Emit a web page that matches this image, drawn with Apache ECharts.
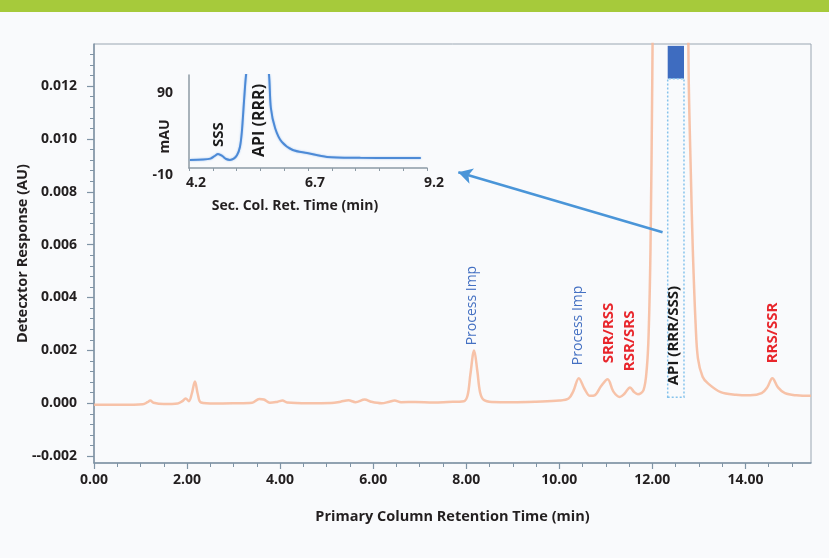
<!DOCTYPE html>
<html>
<head>
<meta charset="utf-8">
<script src="https://cdn.jsdelivr.net/npm/echarts@6/dist/echarts.min.js"></script>
<style>
  html, body { margin: 0; padding: 0; background: #f9fafc; }
  #chart { width: 829px; height: 558px; }
</style>
</head>
<body>
<div id="chart"></div>
<script>
// Primary column chromatogram: [retention time (min), response (AU)]
const primaryTrace = [
  [0.0, -0.00006], [0.6, -0.00006], [1.05, -0.00004], [1.15, 0.00004], [1.21, 0.00010],
  [1.28, 0.00002], [1.5, -0.00003], [1.8, -0.00001], [1.9, 0.00008], [1.97, 0.00018],
  [2.04, 0.00008], [2.1, 0.00035], [2.17, 0.00082], [2.23, 0.00035], [2.3, 0.00003],
  [2.6, -0.00001], [3.0, 0.0], [3.4, 0.00002], [3.55, 0.00016], [3.65, 0.00014],
  [3.78, 0.00002], [3.95, 0.00006], [4.05, 0.00010], [4.15, 0.00003], [4.6, 0.0],
  [5.1, 0.00001], [5.3, 0.00006], [5.47, 0.00011], [5.62, 0.00004], [5.82, 0.00014],
  [5.95, 0.00006], [6.18, 0.0], [6.35, 0.00006], [6.46, 0.0001], [6.6, 0.00004],
  [6.9, 0.00005], [7.3, 0.00003], [7.6, 0.00005], [7.95, 0.00008], [8.03, 0.0003],
  [8.09, 0.0011], [8.17, 0.0020], [8.24, 0.0012], [8.3, 0.0004], [8.38, 0.00012],
  [8.55, 0.00005], [9.0, 0.00004], [9.5, 0.00006], [10.0, 0.0001], [10.2, 0.00018],
  [10.3, 0.00045], [10.42, 0.00095], [10.54, 0.00055], [10.66, 0.00028], [10.76, 0.0003],
  [10.9, 0.00065], [11.04, 0.00091], [11.16, 0.00045], [11.3, 0.00024], [11.4, 0.00036],
  [11.52, 0.0006], [11.61, 0.00042], [11.69, 0.00034], [11.81, 0.0005], [11.88, 0.0013],
  [11.92, 0.0026], [11.96, 0.0058], [12.0, 0.0125], [12.04, 0.021], [12.2, 0.045],
  [12.4, 0.06], [12.6, 0.045], [12.74, 0.021], [12.78, 0.0125], [12.83, 0.0085],
  [12.87, 0.0058], [12.93, 0.003], [12.98, 0.0017], [13.08, 0.001], [13.19, 0.00076],
  [13.47, 0.00042], [13.8, 0.00032], [14.1, 0.0003], [14.35, 0.00038], [14.47, 0.0006],
  [14.58, 0.00095], [14.7, 0.0006], [14.85, 0.00038], [15.1, 0.0003], [15.41, 0.00028]
];

// Secondary column trace (inset): [retention time (min), mAU]
const secondaryTrace = [
  [4.22, 0.7], [4.5, 1.2], [4.65, 2.5], [4.74, 6], [4.81, 8.7], [4.9, 6], [4.98, 2],
  [5.06, 0.8], [5.14, 2.5], [5.21, 7.3], [5.27, 18], [5.31, 38], [5.36, 83], [5.40, 115],
  [5.5, 160], [5.64, 185], [5.78, 160], [5.88, 115], [5.92, 70], [6.01, 43], [6.15, 24.7],
  [6.38, 14], [6.68, 10], [7.1, 4.7], [7.8, 3.6], [8.5, 3.3], [9.07, 3.3]
];

// Axis ticks
const xMajorTicks = [0, 2, 4, 6, 8, 10, 12, 14];
const yMajorTicks = [-0.002, 0, 0.002, 0.004, 0.006, 0.008, 0.010, 0.012];
const insetXLabels = [4.2, 6.7, 9.2];
const insetYLabels = [-10, 90];

// Peak annotations: [text, time, response, colour, font]
const peakLabels = [
  ['Process Imp', 8.13, 0.00219, '#4470c2', '14px "Open Sans"'],
  ['Process Imp', 10.40, 0.00144, '#4470c2', '14px "Open Sans"'],
  ['SRR/RSS', 11.06, 0.00151, '#e8262c', 'bold 15px "Open Sans"'],
  ['RSR/SRS', 11.51, 0.00121, '#e8262c', 'bold 15px "Open Sans"'],
  ['API (RRR/SSS)', 12.45, 0.00068, '#1a1a1a', 'bold 15px "Open Sans"'],
  ['RRS/SSR', 14.58, 0.00151, '#e8262c', 'bold 15px "Open Sans"']
];
const insetLabels = [
  ['SSS', 4.83, 18, 'bold 15px "Open Sans"'],
  ['API (RRR)', 5.69, 4.7, 'bold 16px "Open Sans"']
];

const X_MIN = 0, X_MAX = 15.41, Y_MIN = -0.00226, Y_MAX = 0.01359;

const xMinorTicks = [];
for (let i = 1; i <= 30; i++) { const v = i * 0.5; if (i % 4 !== 0 && v <= X_MAX) xMinorTicks.push(v); }
const yMinorTicks = [];
for (let i = -5; i <= 34; i++) { const v = +(i * 0.0004).toFixed(4); if (i % 5 !== 0 && v >= Y_MIN && v <= Y_MAX) yMinorTicks.push(v); }

const axisColor = '#7f93a5';
const labelFont = { color: '#231f20', fontWeight: 'bold', fontSize: 14, fontFamily: 'Open Sans' };

const chart = echarts.init(document.getElementById('chart'), null, { renderer: 'canvas' });

chart.setOption({
  backgroundColor: '#f9fafc',
  animation: false,
  grid: [
    { left: 94, right: 18, top: 44, bottom: 95, show: true, borderColor: '#9aa6b2', borderWidth: 1, backgroundColor: 'transparent' },
    { left: 189, right: 402, top: 75, bottom: 390 }
  ],
  xAxis: [
    {
      type: 'value', gridIndex: 0, position: 'bottom', min: X_MIN, max: X_MAX,
      axisLine: { show: true, onZero: false, lineStyle: { color: axisColor, width: 1.5 } },
      axisTick: { show: true, length: 6, customValues: xMajorTicks, lineStyle: { color: axisColor, width: 1.2 } },
      axisLabel: { customValues: xMajorTicks, margin: 10, formatter: v => v.toFixed(2), ...labelFont },
      splitLine: { show: false },
      name: 'Primary Column Retention Time (min)', nameLocation: 'middle', nameGap: 46, nameMoveOverlap: false,
      nameTextStyle: { ...labelFont, fontSize: 14.5 }
    },
    {
      type: 'value', gridIndex: 0, position: 'bottom', min: X_MIN, max: X_MAX,
      axisLine: { show: false, onZero: false },
      axisTick: { show: true, length: 4, customValues: xMinorTicks, lineStyle: { color: axisColor, width: 1 } },
      axisLabel: { show: false }, splitLine: { show: false }
    },
    {
      type: 'value', gridIndex: 1, min: 4.2, max: 9.2, interval: 0.5,
      axisLine: { show: true, onZero: false, lineStyle: { color: '#8c9aa5', width: 1.5 } },
      axisTick: { show: true, length: 3, lineStyle: { color: '#8c9aa5' } },
      axisLabel: { customValues: insetXLabels, margin: 8, padding: [0, 0, 0, 14], ...labelFont },
      splitLine: { show: false },
      name: 'Sec. Col. Ret. Time (min)', nameLocation: 'middle', nameGap: 31, nameMoveOverlap: false,
      nameTextStyle: { ...labelFont, padding: [0, 26, 0, 0] }
    }
  ],
  yAxis: [
    {
      type: 'value', gridIndex: 0, position: 'left', min: Y_MIN, max: Y_MAX,
      axisLine: { show: true, onZero: false, lineStyle: { color: axisColor, width: 1.5 } },
      axisTick: { show: true, length: 7, customValues: yMajorTicks, lineStyle: { color: axisColor, width: 1.2 } },
      axisLabel: { customValues: yMajorTicks, margin: 17, formatter: v => v < -0.001 ? '--0.002' : v.toFixed(3), ...labelFont },
      splitLine: { show: false },
      name: 'Detecxtor Response (AU)', nameLocation: 'middle', nameGap: 64, nameRotate: 90, nameMoveOverlap: false,
      nameTextStyle: { ...labelFont, fontSize: 14.5 }
    },
    {
      type: 'value', gridIndex: 0, position: 'left', min: Y_MIN, max: Y_MAX,
      axisLine: { show: false, onZero: false },
      axisTick: { show: true, length: 4, customValues: yMinorTicks, lineStyle: { color: axisColor, width: 1 } },
      axisLabel: { show: false }, splitLine: { show: false }
    },
    {
      type: 'value', gridIndex: 1, min: -10, max: 114,
      axisLine: { show: true, onZero: false, lineStyle: { color: '#8c9aa5', width: 1.5 } },
      axisTick: { show: false },
      axisLabel: {
        customValues: insetYLabels, margin: 16, ...labelFont,
        formatter: v => v < 0 ? '{low|' + v + '}' : String(v),
        rich: { low: { ...labelFont, padding: [14, 0, 0, 0] } }
      },
      splitLine: { show: false },
      name: 'mAU', nameLocation: 'middle', nameGap: 17, nameRotate: 90, nameMoveOverlap: false,
      nameTextStyle: { ...labelFont, padding: [0, 0, 0, -30] }
    }
  ],
  series: [
    {
      type: 'line', xAxisIndex: 0, yAxisIndex: 0, data: primaryTrace,
      showSymbol: false, smooth: 0.35, clip: true, z: 2,
      lineStyle: { color: '#f6bb9e', width: 2.5, opacity: 0.9 },
      markArea: {
        silent: true,
        label: { show: false },
        data: [
          [{ coord: [12.33, 0.01228], itemStyle: { color: '#3e6cc0' } }, { coord: [12.68, 0.01352] }],
          [{ coord: [12.33, 0.00023], itemStyle: { color: 'rgba(0,0,0,0)', borderColor: '#86c3ec', borderWidth: 1.5, borderType: [2, 2] } },
           { coord: [12.68, 0.01228] }]
        ]
      },
      markLine: {
        silent: true,
        symbol: ['none', 'arrow'], symbolSize: [12, 14],
        label: { show: false },
        lineStyle: { color: '#4a95d8', width: 2.5, type: 'solid' },
        data: [[{ coord: [12.22, 0.00647] }, { coord: [7.83, 0.00874] }]]
      }
    },
    {
      type: 'line', xAxisIndex: 2, yAxisIndex: 2, data: secondaryTrace,
      showSymbol: false, smooth: 0.3, clip: true, z: 3,
      lineStyle: { color: '#4d8ad6', width: 2, shadowBlur: 2, shadowColor: 'rgba(100,160,235,0.6)' }
    }
  ]
});

// Rotated peak labels, positioned through each series' coordinate system
function rotatedText(seriesIndex, text, x, y, fill, font) {
  const p = chart.convertToPixel({ seriesIndex }, [x, y]);
  return {
    type: 'text', x: p[0], y: p[1], rotation: Math.PI / 2, z: 10,
    style: { text, fill, font, align: 'left', verticalAlign: 'middle' }
  };
}

const graphics = [
  { type: 'rect', shape: { x: 0, y: 0, width: 829, height: 12 }, style: { fill: '#a6ca3b' }, z: 10 }
];
peakLabels.forEach(([t, x, y, c, f]) => graphics.push(rotatedText(0, t, x, y, c, f)));
insetLabels.forEach(([t, x, y, f]) => graphics.push(rotatedText(1, t, x, y, '#1a1a1a', f)));

chart.setOption({ graphic: graphics });
</script>
</body>
</html>
